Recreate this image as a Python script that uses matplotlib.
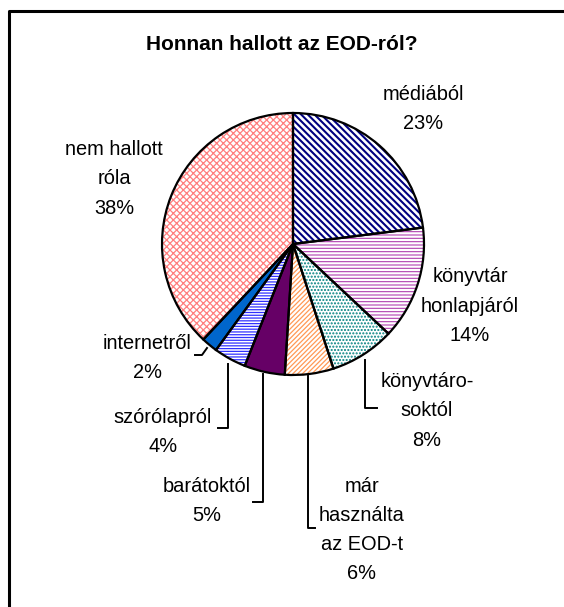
import matplotlib
matplotlib.use("Agg")
import matplotlib.pyplot as plt
from matplotlib.lines import Line2D

plt.rcParams["font.family"] = ["Liberation Sans", "DejaVu Sans"]

W, H = 564, 607

# data (clockwise from 12 o'clock)
labels = ["médiából", "könyvtár\nhonlapjáról", "könyvtáro-\nsoktól",
          "már\nhasználta\naz EOD-t", "barátoktól", "szórólapról",
          "internetről", "nem hallott\nróla"]
shares = [23, 14, 8, 6, 5, 4, 2, 38]

# styles per slice: (face, hatch, hatch colour, hatch width)
styles = [
    ("white", "\\" * 5, "#000080", 1.5),
    ("white", "-" * 5, "#B040B0", 0.8),
    ("white", "." * 5, "#008080", 1.0),
    ("white", "/" * 7, "#FF9955", 0.9),
    ("#660066", None, None, 1.0),
    ("white", "-" * 6, "#3030FF", 0.9),
    ("#0066CC", None, None, 1.0),
    ("white", "x" * 5, "#FF7F7F", 0.9),
]

# label anchor (pixel coords, y from top)
label_pos = [(423, 109), (470, 306), (427, 411), (362, 530),
             (207, 501), (163, 432), (147, 358), (114, 179)]

# leader lines (pixel coords, y from top)
leaders = [
    None, None,
    [(365, 360), (365, 408), (377, 408)],
    [(308, 376), (308, 528), (315, 528)],
    [(263, 374), (263, 502), (253, 502)],
    [(228, 364), (228, 428), (218, 428)],
    [(207, 348), (202, 355), (195, 355)],
    None,
]

CX, CY, R = 293, 244, 131

fig = plt.figure(figsize=(W / 100, H / 100), dpi=100)
ax = fig.add_axes([0, 0, 1, 1])

# one pass per slice so each hatch can get its own line width
for i, (face, hatch, hcol, hlw) in enumerate(styles):
    with plt.rc_context({"hatch.linewidth": hlw}):
        wedges, _ = ax.pie(shares, startangle=90, counterclock=False,
                           center=(CX, H - CY), radius=R, frame=True,
                           wedgeprops=dict(linewidth=0))
    for j, w in enumerate(wedges):
        if j != i:
            w.remove()
            continue
        w.set_facecolor(face)
        if hatch:
            w.set_hatch(hatch)
            w.set_edgecolor(hcol)
        else:
            w.set_edgecolor(face)
        w.set_linewidth(0)
        if hasattr(w, "set_hatch_linewidth"):
            w.set_hatch_linewidth(hlw)

# outlines
ax.pie(shares, startangle=90, counterclock=False,
       center=(CX, H - CY), radius=R, frame=True,
       wedgeprops=dict(fill=False, edgecolor="black", linewidth=1.6))

for lab, pct, (x, y) in zip(labels, shares, label_pos):
    ax.text(x, H - y, f"{lab}\n{pct}%", ha="center", va="center",
            multialignment="center", fontsize=14.4, linespacing=1.68)

for pts in leaders:
    if pts:
        xs = [p[0] for p in pts]
        ys = [H - p[1] for p in pts]
        ax.add_line(Line2D(xs, ys, color="black", lw=1.4))

# chart frame (right and bottom edges lie outside the image)
ax.add_line(Line2D([9, 9, W + 5], [-5, H - 11, H - 11], color="black", lw=2.2))

ax.text(281.5, H - 44, "Honnan hallott az EOD-ról?", ha="center", va="center",
        fontsize=15, fontweight="bold")

ax.set_xlim(0, W)
ax.set_ylim(0, H)
ax.set_aspect("auto")
ax.axis("off")

fig.savefig("out.png", dpi=100, facecolor="white")
